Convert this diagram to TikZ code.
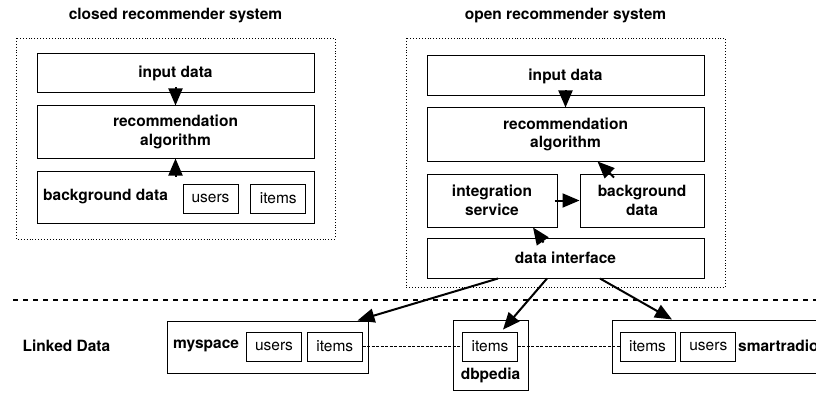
\documentclass[tikz,border=0pt]{standalone}
\usepackage{fontspec}
\setmainfont{TeX Gyre Heros}
\usetikzlibrary{arrows.meta,positioning}
\newcommand{\boxfont}{\fontsize{15.5}{18.5}\selectfont}
\tikzstyle{block}=[
	rectangle,
	draw,
	line width=1pt,
	inner sep=0pt,
	align=center,
	font=\boxfont\bfseries
]
\tikzstyle{part}=[
	rectangle,
	draw,
	line width=0.8pt,
	inner sep=0pt,
	minimum width=55pt,
	minimum height=29pt,
	font=\boxfont,
	node distance=6pt
]
\tikzstyle{heading}=[
	font=\boxfont\bfseries,
	inner sep=0pt
]
\tikzstyle{flow}=[
	-{Triangle[length=17pt,width=14pt]},
	line width=2pt
]
\tikzstyle{system}=[
	dotted,
	line width=0.9pt
]
\tikzstyle{link}=[
	dash pattern=on 3pt off 1.5pt,
	line width=0.6pt
]
\tikzstyle{divider}=[
	dash pattern=on 5pt off 5pt,
	line width=2pt
]

\begin{document}
\begin{tikzpicture}[x=1pt,y=-1pt]
\useasboundingbox (0,0) rectangle (816,393);

% closed recommender system
\node [heading] (ClosedTitle) at (175.5,16) {closed recommender system};
\draw [system] (16,38) rectangle (335,239);
\node [block, minimum width=277pt, minimum height=39pt] (ClosedInput) at (175.5,73.5) {input data};
\node [block, minimum width=277pt, minimum height=52pt] (ClosedAlgo) at (175.5,132) {recommendation\\algorithm};
\node [block, minimum width=277pt, minimum height=52pt] (ClosedBack) at (175.5,197) {};
\node [heading, anchor=west] (ClosedBackText) at (43,197) {background data};
\node [part] (ClosedUsers) at (210.5,198.5) {users};
\node [part] (ClosedItems) [right=12pt of ClosedUsers] {items};
\draw [flow] ([yshift=6pt]ClosedInput.south) -- (ClosedAlgo.north);
\draw [flow] ([yshift=-6pt]ClosedBack.north) -- (ClosedAlgo.south);

% open recommender system
\node [heading] (OpenTitle) at (565.5,16) {open recommender system};
\draw [system] (406,38) rectangle (725,287);
\node [block, minimum width=277pt, minimum height=40pt] (OpenInput) at (565.5,76) {input data};
\node [block, minimum width=277pt, minimum height=53pt] (OpenAlgo) at (565.5,134.5) {recommendation\\algorithm};
\node [block, minimum width=130pt, minimum height=53pt] (Integration) at (492,200.5) {integration\\service};
\node [block, minimum width=124pt, minimum height=53pt] (OpenBack) at (642,200.5) {background\\data};
\node [block, minimum width=277pt, minimum height=40pt] (DataInterface) at (565.5,258) {data interface};
\draw [flow] ([yshift=6pt]OpenInput.south) -- (OpenAlgo.north);
\draw [flow] ([xshift=-28pt,yshift=-4pt]OpenBack.north) -- ([xshift=32pt]OpenAlgo.south);
\draw [flow] ([xshift=-3pt]Integration.east) -- (OpenBack.west);
\draw [flow] ([xshift=-22pt,yshift=-5pt]DataInterface.north) -- ([xshift=41pt]Integration.south);

\draw [divider] (13,300) -- (816,300);

% linked data
\node [heading] (LinkedData) at (66.5,346) {Linked Data};
\node [block, minimum width=201pt, minimum height=52pt] (MySpace) at (267.5,347) {};
\node [heading, anchor=west] (MySpaceText) at (173,346) {myspace};
\node [part] (MyUsers) at (274,346.5) {users};
\node [part] (MyItems) [right=5pt of MyUsers] {items};
\node [block, minimum width=75pt, minimum height=70pt] (DBpedia) at (490.5,355) {};
\node [part] (DbItems) at (490,346.5) {items};
\node [heading] (DBpediaText) at (490.5,375) {dbpedia};
\node [block, minimum width=248pt, minimum height=53pt] (SmartRadio) at (736,346.5) {};
\node [part] (SmItems) at (647.5,346.5) {items};
\node [part] (SmUsers) [right=5pt of SmItems] {users};
\node [heading, anchor=west] (SmartRadioText) at (738,346) {smartradio};
\draw [link] (MyItems) -- (DbItems);
\draw [link] (DbItems) -- (SmItems);
\draw [flow] ([xshift=-67.5pt]DataInterface.south) -- ([xshift=90pt]MySpace.north);
\draw [flow] ([xshift=-18.5pt]DataInterface.south) -- ([xshift=13pt,yshift=2pt]DbItems.north);
\draw [flow] ([xshift=34.5pt]DataInterface.south) -- ([xshift=-64pt]SmartRadio.north);
\end{tikzpicture}
\end{document}
